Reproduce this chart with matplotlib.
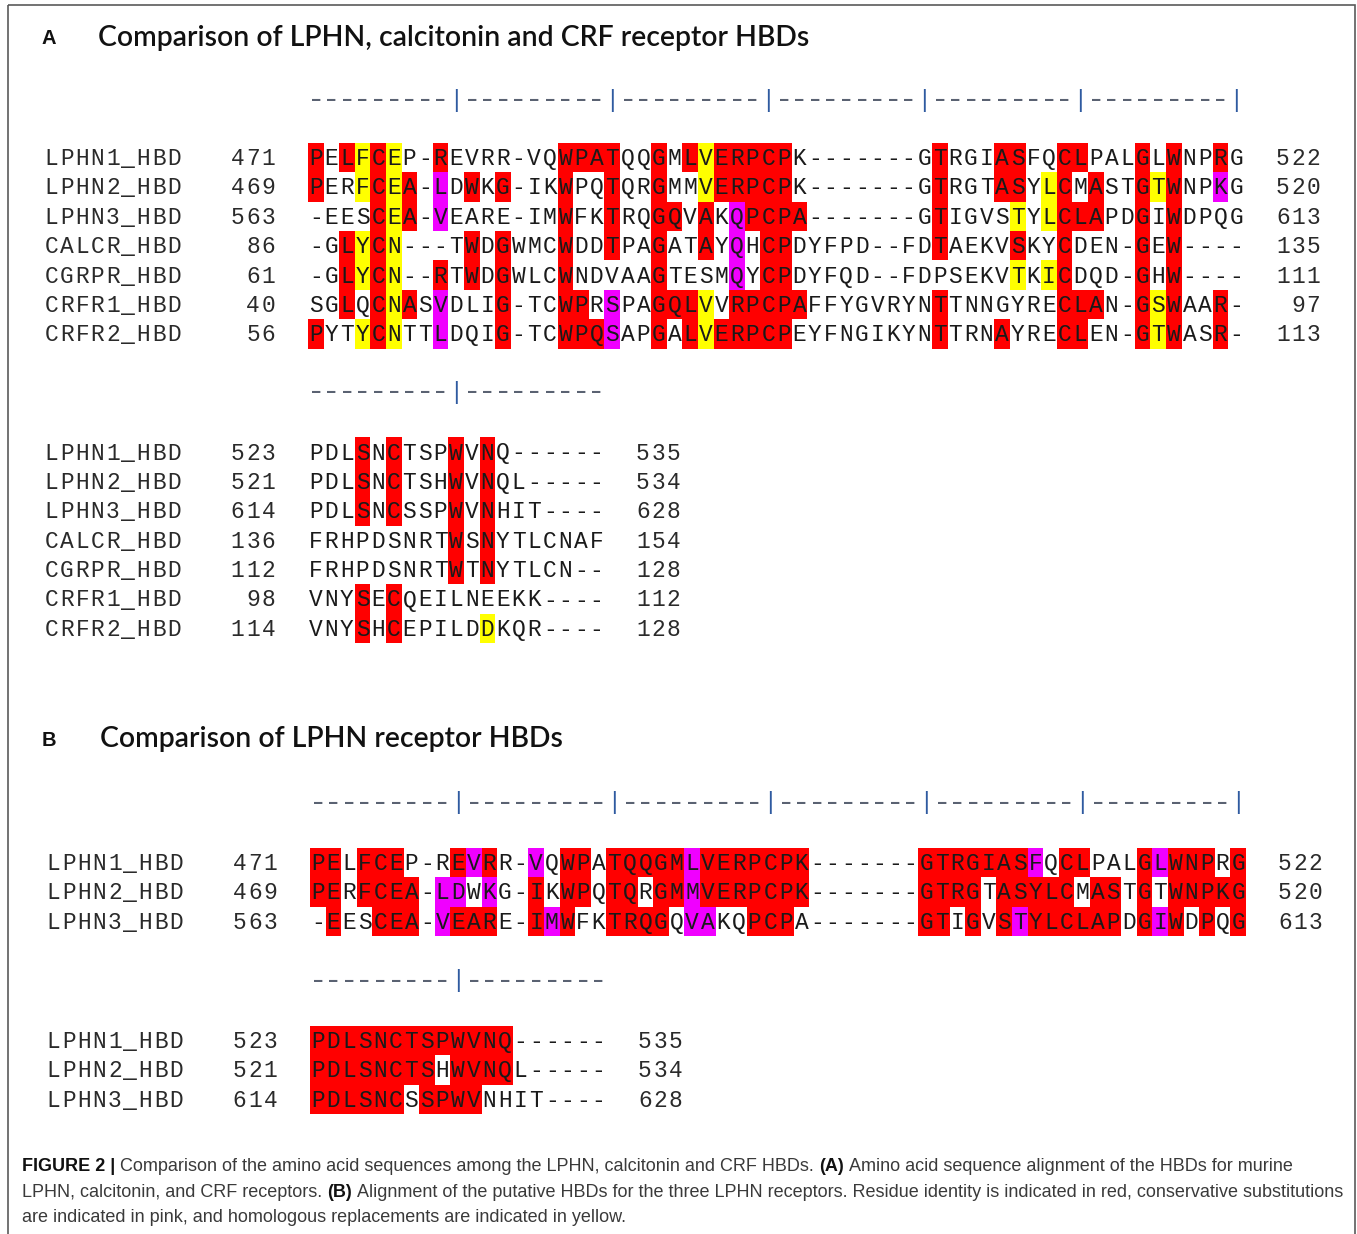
import matplotlib
matplotlib.use("Agg")
import matplotlib.pyplot as plt
from matplotlib.font_manager import FontProperties, fontManager

# ---- data ---------------------------------------------------------------
names_a = ["LPHN1_HBD", "LPHN2_HBD", "LPHN3_HBD", "CALCR_HBD",
           "CGRPR_HBD", "CRFR1_HBD", "CRFR2_HBD"]

seq_a1 = [
    "PELFCEP-REVRR-VQWPATQQGMLVERPCPK-------GTRGIASFQCLPALGLWNPRG",
    "PERFCEA-LDWKG-IKWPQTQRGMMVERPCPK-------GTRGTASYLCMASTGTWNPKG",
    "-EESCEA-VEARE-IMWFKTRQGQVAKQPCPA-------GTIGVSTYLCLAPDGIWDPQG",
    "-GLYCN---TWDGWMCWDDTPAGATAYQHCPDYFPD--FDTAEKVSKYCDEN-GEW----",
    "-GLYCN--RTWDGWLCWNDVAAGTESMQYCPDYFQD--FDPSEKVTKICDQD-GHW----",
    "SGLQCNASVDLIG-TCWPRSPAGQLVVRPCPAFFYGVRYNTTNNGYRECLAN-GSWAAR-",
    "PYTYCNTTLDQIG-TCWPQSAPGALVERPCPEYFNGIKYNTTRNAYRECLEN-GTWASR-",
]
start_a1 = [471, 469, 563, 86, 61, 40, 56]
end_a1 = [522, 520, 613, 135, 111, 97, 113]
# r = identity (red), m = conservative (pink), y = homologous (yellow)
shade_a1 = [
    "r.ryry..r." "......rrrr" "..r.ryrrrr" "r........." "r...rr..rr" "...r.r..r.",
    "r..yryr.m." "r.r...r..r" "..r..yrrrr" "r........." "r...rr.yr." "r..ryr..m.",
    "....ryr.m." "......r..r" "..rr.r.mrr" "rr........" "r....y.yrr" "r..r.r....",
    "..ryry...." "r.r...r..r" "..r..r.m.r" "r........." "r....r..r." "...r.r....",
    "..ryry..r." "r.r...r..." "..r....m.r" "r........." ".....y.yr." "...r.r....",
    "..r.ryr.m." "..r...rr.m" "..rrry.rrr" "rr........" "r.......rr" "r..ryr..r.",
    "r..yry..m." "..r...rrrm" "..r.ryrrrr" "r........." "r...r...rr" "...ryr..r.",
]

seq_a2 = [
    "PDLSNCTSPWVNQ------",
    "PDLSNCTSHWVNQL-----",
    "PDLSNCSSPWVNHIT----",
    "FRHPDSNRTWSNYTLCNAF",
    "FRHPDSNRTWTNYTLCN--",
    "VNYSECQEILNEEKK----",
    "VNYSHCEPILDDKQR----",
]
start_a2 = [523, 521, 614, 136, 112, 98, 114]
end_a2 = [535, 534, 628, 154, 128, 112, 128]
shade_a2 = [
    "...r.r...r.r.......",
    "...r.r...r.r.......",
    "...r.r...r.r.......",
    ".........r.r.......",
    ".........r.r.......",
    "...r.r.............",
    "...r.r.....y.......",
]

names_b = names_a[:3]
seq_b1 = seq_a1[:3]
start_b1 = start_a1[:3]
end_b1 = end_a1[:3]
shade_b1 = [
    "rr.rrr...r" "mr..m.rr.r" "rrrrmrrrrr" "rr.......r" "rrrrrrm.rr" "...rmrrr.r",
    "rr.rrrr.mm" ".m..r.rr.r" "r.rrmrrrrr" "rr.......r" "rrr.rrrrr." "rr.r.rrrrr",
    ".r..rrr.mr" "rr..rmr..r" "rrr.mm..rr" "r........r" "r.r.rmrrrr" "rr.rmr.r.r",
]
seq_b2 = seq_a2[:3]
start_b2 = start_a2[:3]
end_b2 = end_a2[:3]
shade_b2 = [
    "rrrrrrrrrrrrr......",
    "rrrrrrrr.rrrr......",
    "rrrrrr.rrrr........",
]

ruler_long = "---------|" * 6
ruler_short = "---------|---------"

shade_colors = {"r": "#ff0000", "m": "#f000ff", "y": "#ffff00"}

# ---- figure -------------------------------------------------------------
W, H = 1357, 1234
fig = plt.figure(figsize=(W / 100, H / 100), dpi=100)
ax = fig.add_axes([0, 0, 1, 1])
ax.set_xlim(0, W)
ax.set_ylim(H, 0)
ax.axis("off")

installed = {f.name for f in fontManager.ttflist}
mono = FontProperties(family="Liberation Mono", size=16.5)
dash_font = FontProperties(family="Liberation Mono", size=22)
title_family = "Lato" if "Lato" in installed else "Open Sans"
cap_family = "Liberation Sans Narrow" if "Liberation Sans Narrow" in installed else "Liberation Sans"

CW = 15.6   # column width in pixels
RH = 29.4   # row height in pixels
NW = 15.3   # spacing for names / numbers

# outer frame
ax.add_patch(plt.Rectangle((8, 5), 1347, 1250, fill=False, ec="#5a5a5a", lw=1.2))


def put_mono(x_left, yc, s, cw, color="#1a1a1a"):
    for i, ch in enumerate(s):
        if ch != " ":
            ax.text(x_left + (i + 0.5) * cw, yc + 7.5, ch, ha="center",
                    va="baseline", fontproperties=mono, color=color)


def draw_block(names, seqs, shades, starts, ends, ruler,
               x_name, x_seq, start_right, end_right, y_ruler, y_first):
    # ruler
    for i, ch in enumerate(ruler):
        if ch == "|":
            ax.text(x_seq + (i + 0.5) * CW, y_ruler, ch, ha="center", va="center",
                    fontproperties=mono, color="#2f5aa0")
        else:
            ax.text(x_seq + (i + 0.5) * CW, y_ruler, ch, ha="center", va="center",
                    fontproperties=dash_font, color="#5a6272")
    # shaded cells, one bar call per colour
    for code, colr in shade_colors.items():
        xs, ys = [], []
        for r, sh in enumerate(shades):
            for c, v in enumerate(sh):
                if v == code:
                    xs.append(x_seq + (c + 0.5) * CW)
                    ys.append(y_first + r * RH - RH / 2)
        if xs:
            ax.bar(xs, RH, width=CW, bottom=ys, color=colr, linewidth=0, zorder=1)
    # residues, names and numbers
    for r, seq in enumerate(seqs):
        yc = y_first + r * RH
        put_mono(x_name, yc, names[r], NW, "#2a2a2a")
        s = str(starts[r])
        put_mono(start_right - len(s) * NW, yc, s, NW, "#2a2a2a")
        e = str(ends[r])
        put_mono(end_right - len(e) * NW, yc, e, NW, "#2a2a2a")
        put_mono(x_seq, yc, seq, CW)


# panel A
draw_block(names_a, seq_a1, shade_a1, start_a1, end_a1, ruler_long,
           44, 308, 276, 1321, 100, 157.5)
draw_block(names_a, seq_a2, shade_a2, start_a2, end_a2, ruler_short,
           44, 308, 276, 681, 392, 452)
# panel B
draw_block(names_b, seq_b1, shade_b1, start_b1, end_b1, ruler_long,
           46, 310, 278, 1323, 803, 862.5)
draw_block(names_b, seq_b2, shade_b2, start_b2, end_b2, ruler_short,
           46, 310, 278, 683, 981, 1040.5)

renderer = fig.canvas.get_renderer()


def text_width(s, fp):
    t = ax.text(0, 0, s, fontproperties=fp)
    w = t.get_window_extent(renderer).width
    t.remove()
    return w


# panel titles, sized to the reference width
title_a = "Comparison of LPHN, calcitonin and CRF receptor HBDs"
title_b = "Comparison of LPHN receptor HBDs"
fp_t = FontProperties(family=title_family, weight="semibold", size=20)
scale = 710 / text_width(title_a, fp_t)
fp_t = FontProperties(family=title_family, weight="semibold", size=20 * scale)
ax.text(98, 46, title_a, fontproperties=fp_t, color="#111111", va="baseline")
ax.text(100, 747, title_b, fontproperties=fp_t, color="#111111", va="baseline")
fp_lab = FontProperties(family="Liberation Sans", weight="bold", size=14.5)
ax.text(42, 44, "A", fontproperties=fp_lab, color="#111111", va="baseline")
ax.text(42, 746, "B", fontproperties=fp_lab, color="#111111", va="baseline")

# caption
caption = [
    [("FIGURE 2 |", True),
     ("Comparison of the amino acid sequences among the LPHN, calcitonin and CRF HBDs.", False),
     ("(A)", True),
     ("Amino acid sequence alignment of the HBDs for murine", False)],
    [("LPHN, calcitonin, and CRF receptors.", False),
     ("(B)", True),
     ("Alignment of the putative HBDs for the three LPHN receptors. Residue identity is indicated in red, conservative substitutions", False)],
    [("are indicated in pink, and homologous replacements are indicated in yellow.", False)],
]
cap_base = [1171, 1197, 1222]


def cap_fonts(size):
    return (FontProperties(family=cap_family, size=size),
            FontProperties(family=cap_family, weight="bold", size=size))


def line_width(line, size):
    fn, fb = cap_fonts(size)
    sp = text_width("a a", fn) - text_width("aa", fn)
    w = sum(text_width(s, fb if b else fn) for s, b in line)
    return w + sp * (len(line) - 1)


cap_size = 12 * 1318 / line_width(caption[1], 12)
fn, fb = cap_fonts(cap_size)
space = text_width("a a", fn) - text_width("aa", fn)
for line, yb in zip(caption, cap_base):
    x = 22
    for s, b in line:
        fp = fb if b else fn
        ax.text(x, yb, s, fontproperties=fp, va="baseline",
                color="#111111" if b else "#3a3a3a")
        x += text_width(s, fp) + space

fig.savefig("out.png", dpi=100)
